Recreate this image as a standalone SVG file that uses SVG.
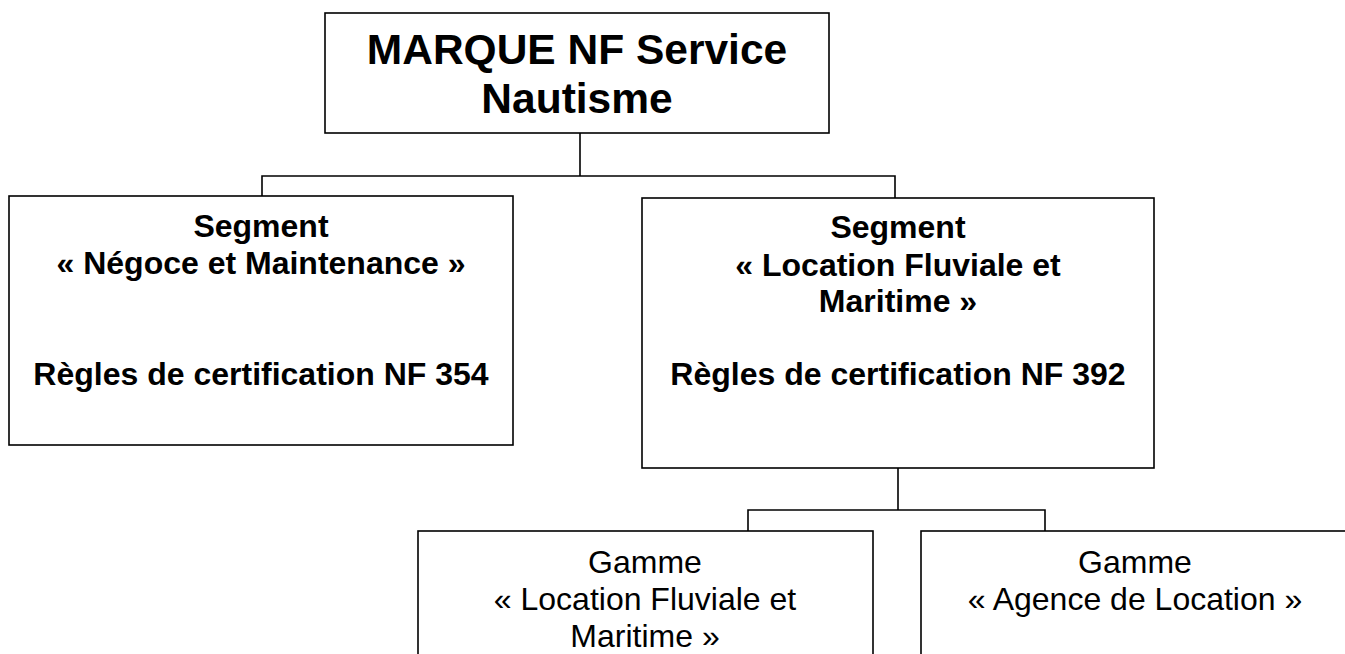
<svg xmlns="http://www.w3.org/2000/svg" width="1345" height="654" viewBox="0 0 1345 654">
<style>
.box{fill:#fff;stroke:#000;stroke-width:1.6}
.ln{fill:none;stroke:#000;stroke-width:1.6}
.t{font-family:"Liberation Sans",Arial,sans-serif;fill:#000;text-anchor:middle}
.b{font-weight:bold;font-size:32px}
.big{font-weight:bold;font-size:42.5px}
.r{font-size:32px}
</style>
<rect width="1345" height="654" fill="#fff"/>
<g id="connectors">
<path class="ln" d="M580 133V176M262 196V176H895V198"/>
<path class="ln" d="M898 468V510M748 531V510H1045V531"/>
</g>
<g id="marque">
<rect class="box" x="325" y="13" width="504" height="120"/>
<text class="t big" x="577" y="64">MARQUE NF Service</text>
<text class="t big" x="577" y="113">Nautisme</text>
</g>
<g id="segment-negoce">
<rect class="box" x="9" y="196" width="504" height="249"/>
<text class="t b" x="261" y="237">Segment</text>
<text class="t b" x="261" y="274">« Négoce et Maintenance »</text>
<text class="t b" x="261" y="385">Règles de certification NF 354</text>
</g>
<g id="segment-location">
<rect class="box" x="642" y="198" width="512" height="270"/>
<text class="t b" x="898" y="238">Segment</text>
<text class="t b" x="898" y="276">« Location Fluviale et</text>
<text class="t b" x="898" y="312">Maritime »</text>
<text class="t b" x="898" y="385">Règles de certification NF 392</text>
</g>
<g id="gamme-location">
<rect class="box" x="418" y="531" width="455" height="140"/>
<text class="t r" x="645" y="573">Gamme</text>
<text class="t r" x="645" y="610">« Location Fluviale et</text>
<text class="t r" x="645" y="647">Maritime »</text>
</g>
<g id="gamme-agence">
<rect class="box" x="921" y="531" width="430" height="140"/>
<text class="t r" x="1135" y="573">Gamme</text>
<text class="t r" x="1135" y="610">« Agence de Location »</text>
</g>
</svg>
